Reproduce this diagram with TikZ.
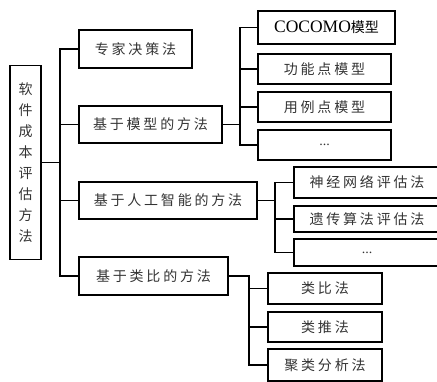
\documentclass[tikz,border=0pt]{standalone}
\usepackage{fontspec}
\setmainfont{Liberation Serif}
\newfontfamily\cjk[LetterSpace=20]{Noto Sans CJK SC}
\newfontfamily\cjkplain{Noto Sans CJK SC}
\begin{document}
\begin{tikzpicture}[x=1pt,y=-1pt,
  box/.style={draw, line width=1.4pt, inner sep=0pt, text=black!80,
    font=\fontsize{14}{16}\cjk},
  dots/.style={font=\fontsize{14}{16}\rmfamily},
  conn/.style={line width=1.4pt}]
\useasboundingbox (0,0) rectangle (437,382);
\clip (0,0) rectangle (437,382);
% root
\node[box, minimum width=31, minimum height=193.5, align=center,
  font=\fontsize{14}{21}\cjkplain] (root) at (25.5,162.5)
  {软\\件\\成\\本\\评\\估\\方\\法};
% level 1
\node[box, minimum width=113, minimum height=38] (b1) at (135.5,49) {专家决策法};
\node[box, minimum width=143, minimum height=37] (b2) at (150.5,124.5) {基于模型的方法};
\node[box, minimum width=178, minimum height=37] (b3) at (168,200.5) {基于人工智能的方法};
\node[box, minimum width=149, minimum height=38] (b4) at (153.5,276) {基于类比的方法};
% model sub
\node[box, minimum width=137, minimum height=33, text=black] (m1) at (326.5,27.5)
  {{\fontsize{17.5}{20}\rmfamily COCOMO}{\cjkplain 模型}};
\node[box, minimum width=133, minimum height=30] (m2) at (324.5,69) {功能点模型};
\node[box, minimum width=133, minimum height=30] (m3) at (324.5,107) {用例点模型};
\node[box, dots, minimum width=133, minimum height=30] (m4) at (324.5,145) {...};
% AI sub
\node[box, minimum width=146, minimum height=31] (a1) at (367,182.5) {神经网络评估法};
\node[box, minimum width=146, minimum height=26] (a2) at (367,219) {遗传算法评估法};
\node[box, dots, minimum width=146, minimum height=27] (a3) at (367,252.5) {...};
% analogy sub
\node[box, minimum width=114, minimum height=31] (c1) at (325,288.5) {类比法};
\node[box, minimum width=114, minimum height=30] (c2) at (325,327) {类推法};
\node[box, minimum width=114, minimum height=32] (c3) at (325,365) {聚类分析法};
% trunks
\coordinate (t0) at (60,0);
\coordinate (t1) at (240,0);
\coordinate (t2) at (275,0);
\coordinate (t3) at (249,0);
% connectors level 1
\draw[conn] (root.east) -- (root.east -| t0);
\draw[conn] (b1.west) -| (t0 |- b4.west) -- (b4.west);
\draw[conn] (b2.west) -- (b2.west -| t0);
\draw[conn] (b3.west) -- (b3.west -| t0);
% model
\draw[conn] (b2.east) -- (b2.east -| t1);
\draw[conn] (m1.west) -| (t1 |- m4.west) -- (m4.west);
\draw[conn] (m2.west) -- (m2.west -| t1);
\draw[conn] (m3.west) -- (m3.west -| t1);
% AI
\draw[conn] (b3.east) -- (b3.east -| t2);
\draw[conn] (a1.west) -| (t2 |- a3.west) -- (a3.west);
\draw[conn] (a2.west) -- (a2.west -| t2);
% analogy
\draw[conn] (b4.east) -| (t3 |- c3.west) -- (c3.west);
\draw[conn] (c1.west) -- (c1.west -| t3);
\draw[conn] (c2.west) -- (c2.west -| t3);
\end{tikzpicture}
\end{document}
